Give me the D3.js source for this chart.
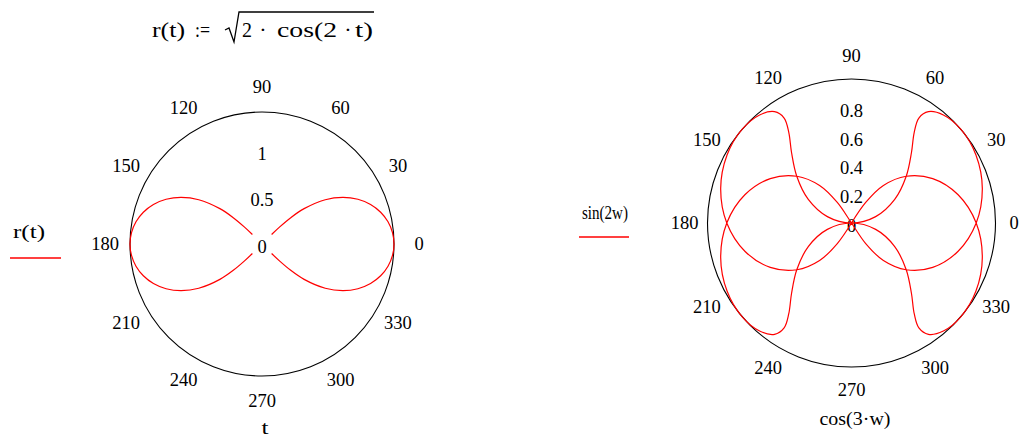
<!DOCTYPE html>
<html>
<head>
<meta charset="utf-8">
<script src="https://cdn.jsdelivr.net/npm/d3@7"></script>
<style>
  html, body { margin: 0; padding: 0; background: #fff; }
  svg { display: block; }
  text { font-family: "Liberation Serif", "Times New Roman", serif; fill: #000; }
</style>
</head>
<body>
<svg id="chart" width="1021" height="437"></svg>
<script>
// ---------- data ----------
// Left plot: r(t) = sqrt(2 cos(2t)); angle t in degrees, radius values
const lobeAngleRight = [-44.7, -44, -42.5, -40, -35, -30, -25, -20, -15, -10, -5, 0, 5, 10, 15, 20, 25, 30, 35, 40, 42.5, 44, 44.7];
const lobeAngleLeft  = [135.3, 136, 137.5, 140, 145, 150, 155, 160, 165, 170, 175, 180, 185, 190, 195, 200, 205, 210, 215, 220, 222.5, 224, 224.7];
const lobeRadius     = [0.1447, 0.2642, 0.4175, 0.5893, 0.8271, 1.0, 1.1338, 1.2378, 1.3161, 1.3709, 1.4034, 1.4142,
                        1.4034, 1.3709, 1.3161, 1.2378, 1.1338, 1.0, 0.8271, 0.5893, 0.4175, 0.2642, 0.1447];
const leftRadialTicks = [0, 0.5, 1];
const leftRadialMax = 1.4142;

// Right plot: angle = cos(3w) (radians), radius = sin(2w), w = 0..360 deg in 5 deg steps
const rightAngleRad = [
  1, 0.9659, 0.8660, 0.7071, 0.5, 0.2588, 0, -0.2588, -0.5, -0.7071, -0.8660, -0.9659,
  -1, -0.9659, -0.8660, -0.7071, -0.5, -0.2588, 0, 0.2588, 0.5, 0.7071, 0.8660, 0.9659,
  1, 0.9659, 0.8660, 0.7071, 0.5, 0.2588, 0, -0.2588, -0.5, -0.7071, -0.8660, -0.9659,
  -1, -0.9659, -0.8660, -0.7071, -0.5, -0.2588, 0, 0.2588, 0.5, 0.7071, 0.8660, 0.9659,
  1, 0.9659, 0.8660, 0.7071, 0.5, 0.2588, 0, -0.2588, -0.5, -0.7071, -0.8660, -0.9659,
  -1, -0.9659, -0.8660, -0.7071, -0.5, -0.2588, 0, 0.2588, 0.5, 0.7071, 0.8660, 0.9659,
  1];
const rightRadius = [
  0, 0.1736, 0.3420, 0.5, 0.6428, 0.7660, 0.8660, 0.9397, 0.9848, 1, 0.9848, 0.9397,
  0.8660, 0.7660, 0.6428, 0.5, 0.3420, 0.1736, 0, -0.1736, -0.3420, -0.5, -0.6428, -0.7660,
  -0.8660, -0.9397, -0.9848, -1, -0.9848, -0.9397, -0.8660, -0.7660, -0.6428, -0.5, -0.3420, -0.1736,
  0, 0.1736, 0.3420, 0.5, 0.6428, 0.7660, 0.8660, 0.9397, 0.9848, 1, 0.9848, 0.9397,
  0.8660, 0.7660, 0.6428, 0.5, 0.3420, 0.1736, 0, -0.1736, -0.3420, -0.5, -0.6428, -0.7660,
  -0.8660, -0.9397, -0.9848, -1, -0.9848, -0.9397, -0.8660, -0.7660, -0.6428, -0.5, -0.3420, -0.1736,
  0];
const rightRadialTicks = [0, 0.2, 0.4, 0.6, 0.8];
const rightRadialMax = 1;

const angleTicks = [0, 30, 60, 90, 120, 150, 180, 210, 240, 270, 300, 330];

const leftLegend = "r(t)";
const leftAxisTitle = "t";
const rightLegend = "sin(2w)";
const rightAxisTitle = "cos(3\u00b7w)";

// ---------- drawing ----------
const svg = d3.select("#chart");
const RED = "#ff0000";
const FS = 18.5;

function drawPolar(cfg) {
  const g = svg.append("g").attr("transform", `translate(${cfg.cx},${cfg.cy})`);
  const rScale = d3.scaleLinear().domain([0, cfg.rMax]).range([0, cfg.R]);

  // outer circle
  g.append("circle").attr("r", cfg.R).attr("fill", "none").attr("stroke", "#000").attr("stroke-width", 1.1);

  // angle labels
  const aScale = d3.scaleLinear().domain([0, 360]).range([0, 2 * Math.PI]);
  g.selectAll("text.ang").data(angleTicks).join("text")
    .attr("class", "ang")
    .attr("x", d => {
      const x = (cfg.R + cfg.labelGap) * Math.cos(aScale(d));
      return Math.min(x, cfg.maxLabelX - cfg.cx);
    })
    .attr("y", d => -(cfg.R + cfg.labelGap) * Math.sin(aScale(d)))
    .attr("text-anchor", "middle")
    .attr("dominant-baseline", "central")
    .attr("font-size", FS)
    .text(d => d);

  // radial labels
  g.selectAll("text.rad").data(cfg.radialTicks).join("text")
    .attr("class", "rad")
    .attr("x", 0)
    .attr("y", d => -rScale(d) + 3)
    .attr("text-anchor", "middle")
    .attr("dominant-baseline", "central")
    .attr("font-size", FS)
    .text(d => d);

  // curves
  const line = d3.lineRadial()
    .angle(d => Math.PI / 2 - d.a)
    .radius(d => rScale(d.r))
    .curve(d3.curveCatmullRom.alpha(0.5));
  cfg.series.forEach(s => {
    g.append("path").attr("d", line(s)).attr("fill", "none")
      .attr("stroke", RED).attr("stroke-width", 1.2);
  });

  // axis title below
  svg.append("text").attr("x", cfg.titleX).attr("y", cfg.titleY)
    .attr("text-anchor", "middle").attr("dominant-baseline", "central")
    .attr("font-size", FS)
    .attr("textLength", cfg.titleLen).attr("lengthAdjust", "spacingAndGlyphs")
    .text(cfg.axisTitle);

  // legend
  svg.append("text").attr("x", cfg.legX).attr("y", cfg.legY)
    .attr("font-size", FS)
    .attr("textLength", cfg.legLen).attr("lengthAdjust", "spacingAndGlyphs")
    .text(cfg.legend);
  svg.append("line").attr("x1", cfg.legLineX1).attr("x2", cfg.legLineX2)
    .attr("y1", cfg.legLineY).attr("y2", cfg.legLineY)
    .attr("stroke", RED).attr("stroke-width", 1.5);
}

const deg = Math.PI / 180;
const rightLobe = lobeAngleRight.map((t, i) => ({ a: t * deg, r: lobeRadius[i] }));
const leftLobe = lobeAngleLeft.map((t, i) => ({ a: t * deg, r: lobeRadius[i] }));

drawPolar({
  cx: 262, cy: 244, R: 132, rMax: leftRadialMax, labelGap: 25, maxLabelX: 1014,
  radialTicks: leftRadialTicks,
  series: [rightLobe, leftLobe],
  axisTitle: leftAxisTitle, titleX: 265, titleY: 428, titleLen: 7,
  legend: leftLegend, legX: 13, legY: 238, legLen: 32,
  legLineX1: 10, legLineX2: 61, legLineY: 258
});

const wCurve = rightAngleRad.map((a, i) => ({ a: a, r: rightRadius[i] }));
drawPolar({
  cx: 851.5, cy: 223, R: 144, rMax: rightRadialMax, labelGap: 23, maxLabelX: 1014,
  radialTicks: rightRadialTicks,
  series: [wCurve],
  axisTitle: rightAxisTitle, titleX: 855, titleY: 419, titleLen: 71,
  legend: rightLegend, legX: 582, legY: 219, legLen: 46,
  legLineX1: 579, legLineX2: 629, legLineY: 237
});

// ---------- formula title: r(t) := sqrt(2 · cos(2 · t)) ----------
const TF = 22;
const ty = 37;
function tpiece(x, txt, len, anchor) {
  const t = svg.append("text").attr("x", x).attr("y", ty).attr("font-size", TF).text(txt);
  if (len) t.attr("textLength", len).attr("lengthAdjust", "spacingAndGlyphs");
  if (anchor) t.attr("text-anchor", anchor);
  return t;
}
tpiece(152, "r(t)", 33);
tpiece(195, ":=", 15);
// radical sign and vinculum
svg.append("path").attr("d", "M225,30 L229,28 L234,42 L239,12 L374,12")
  .attr("fill", "none").attr("stroke", "#000").attr("stroke-width", 1.3);
tpiece(242, "2", 10);
tpiece(263, "\u00b7", null, "middle");
tpiece(277, "cos(2", 60);
tpiece(348, "\u00b7", null, "middle");
tpiece(355, "t)", 18);
</script>
</body>
</html>
